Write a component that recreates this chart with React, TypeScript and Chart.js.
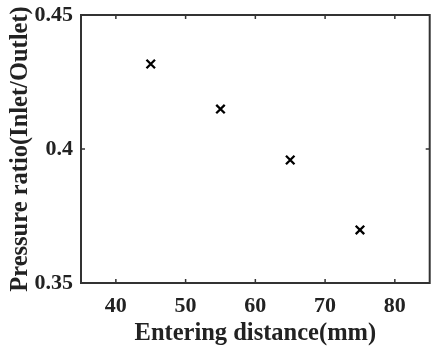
import React, { useEffect, useRef } from "react";
import { Chart, registerables } from "chart.js";

Chart.register(...registerables);

const distances = [45, 55, 65, 75];
const pressureRatios = [0.4317, 0.4149, 0.3959, 0.3698];
const xTicks = [40, 50, 60, 70, 80];
const yTicks = [0.35, 0.4, 0.45];

const FONT = "'Liberation Serif', 'Times New Roman', serif";
const TEXT = "#222";

const boxPlugin = {
  id: "boxTicks",
  afterDraw(chart: any) {
    const { ctx, chartArea } = chart;
    const { left, right, top, bottom } = chartArea;
    const xs = chart.scales.x;
    const ys = chart.scales.y;
    ctx.save();
    ctx.strokeStyle = "#333";
    ctx.lineWidth = 2;
    ctx.beginPath();
    ctx.rect(left, top, right - left, bottom - top);
    ctx.stroke();
    ctx.lineWidth = 1.5;
    ctx.beginPath();
    const len = 4;
    xTicks.forEach((v) => {
      const px = xs.getPixelForValue(v);
      ctx.moveTo(px, bottom);
      ctx.lineTo(px, bottom - len);
      ctx.moveTo(px, top);
      ctx.lineTo(px, top + len);
    });
    yTicks.forEach((v) => {
      const py = ys.getPixelForValue(v);
      ctx.moveTo(left, py);
      ctx.lineTo(left + len, py);
      ctx.moveTo(right, py);
      ctx.lineTo(right - len, py);
    });
    ctx.stroke();
    ctx.restore();
  },
};

export default function App() {
  const ref = useRef<HTMLCanvasElement>(null);
  useEffect(() => {
    if (!ref.current) return;
    const chart = new Chart(ref.current, {
      type: "scatter",
      data: {
        datasets: [
          {
            data: distances.map((d, i) => ({ x: d, y: pressureRatios[i] })),
            pointStyle: "crossRot",
            pointRadius: 6,
            borderColor: "#000",
            backgroundColor: "#000",
            borderWidth: 2.3,
          },
        ],
      },
      options: {
        responsive: false,
        animation: false,
        layout: { padding: { left: 0, top: 15, right: 7, bottom: 0 } },
        plugins: { legend: { display: false }, tooltip: { enabled: false } },
        scales: {
          x: {
            type: "linear",
            min: 35,
            max: 85,
            afterBuildTicks: (s: any) => {
              s.ticks = xTicks.map((v) => ({ value: v }));
            },
            afterFit: (s: any) => {
              s.height = 68;
              s.paddingLeft = 0;
              s.paddingRight = 0;
            },
            grid: { display: false, drawTicks: false },
            border: { display: false },
            ticks: {
              color: TEXT,
              padding: 10,
              font: { family: FONT, size: 22, weight: "bold" },
            },
            title: {
              display: true,
              text: "Entering distance(mm)",
              color: TEXT,
              padding: { top: 0, bottom: 3 },
              font: { family: FONT, size: 24.5, weight: "bold" },
            },
          },
          y: {
            type: "linear",
            min: 0.35,
            max: 0.45,
            afterBuildTicks: (s: any) => {
              s.ticks = yTicks.map((v) => ({ value: v }));
            },
            afterFit: (s: any) => {
              s.width = 81;
              s.paddingTop = 0;
              s.paddingBottom = 0;
            },
            grid: { display: false, drawTicks: false },
            border: { display: false },
            ticks: {
              color: TEXT,
              padding: 8,
              font: { family: FONT, size: 22, weight: "bold" },
              callback: (v: any) => String(Number(v)),
            },
            title: {
              display: true,
              text: "Pressure ratio(Inlet/Outlet)",
              color: TEXT,
              padding: { top: 6, bottom: 0 },
              font: { family: FONT, size: 24.5, weight: "bold" },
            },
          },
        },
      },
      plugins: [boxPlugin],
    });
    return () => chart.destroy();
  }, []);
  return (
    <div style={{ position: "fixed", left: 0, top: 0, width: 438, height: 351, background: "#fff" }}>
      <canvas ref={ref} width={438} height={351} style={{ display: "block" }} />
    </div>
  );
}
